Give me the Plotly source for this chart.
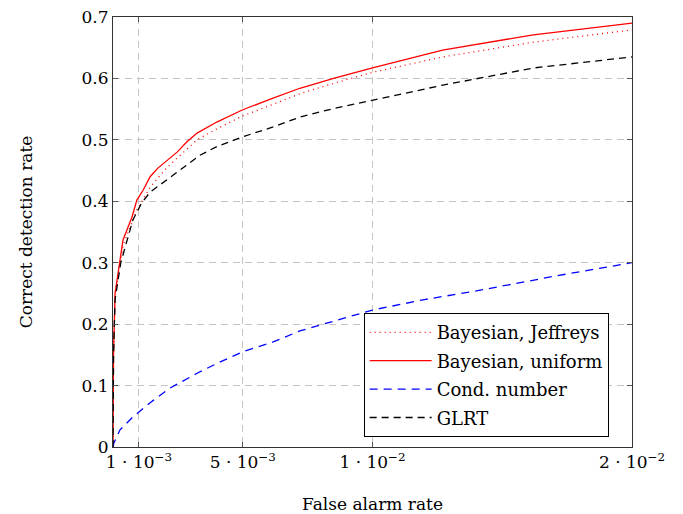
import plotly.graph_objects as go

# False alarm rate in units of 1e-3
jef_x = [0, 0.02, 0.08, 0.27, 0.4, 0.73, 0.92, 1.43, 2.08, 2.85, 3.24, 4.0, 5.0, 6.17, 7.2, 8.5, 10, 12.7, 16.2, 20]
jef_y = [0, 0.15, 0.25, 0.30, 0.33, 0.365, 0.386, 0.423, 0.455, 0.485, 0.500, 0.518, 0.539, 0.558, 0.575, 0.592, 0.610, 0.635, 0.659, 0.679]

uni_x = [0, 0.02, 0.08, 0.27, 0.385, 0.73, 0.92, 1.16, 1.43, 1.73, 2.08, 2.47, 2.85, 3.24, 4.0, 5.0, 6.17, 7.2, 8.5, 10, 12.7, 16.2, 20]
uni_y = [0, 0.15, 0.25, 0.309, 0.337, 0.374, 0.402, 0.418, 0.440, 0.454, 0.467, 0.480, 0.497, 0.511, 0.529, 0.549, 0.568, 0.584, 0.600, 0.617, 0.646, 0.671, 0.690]

cond_x = [0, 0.03, 0.27, 0.77, 1.43, 2.2, 3.24, 4.1, 5.0, 6.17, 7.2, 10, 12, 14, 17, 20]
cond_y = [0, 0.006, 0.028, 0.049, 0.072, 0.096, 0.120, 0.138, 0.155, 0.171, 0.189, 0.223, 0.240, 0.254, 0.278, 0.300]

glrt_x = [0, 0.02, 0.08, 0.3, 0.5, 0.77, 1.1, 1.43, 2.08, 2.7, 3.35, 4.0, 5.0, 6.17, 7.2, 8.5, 10, 12.7, 16.2, 20]
glrt_y = [0, 0.15, 0.24, 0.30, 0.33, 0.370, 0.397, 0.415, 0.435, 0.454, 0.475, 0.489, 0.505, 0.521, 0.537, 0.551, 0.565, 0.589, 0.617, 0.635]

x_ticks = [1e-3, 5e-3, 1e-2, 2e-2]
x_ticktext = ["1 · 10<sup>−3</sup>", "5 · 10<sup>−3</sup>", "1 · 10<sup>−2</sup>", "2 · 10<sup>−2</sup>"]
y_ticks = [0, 0.1, 0.2, 0.3, 0.4, 0.5, 0.6, 0.7]
y_ticktext = ["0", "0.1", "0.2", "0.3", "0.4", "0.5", "0.6", "0.7"]

def sc(xs):
    return [v * 1e-3 for v in xs]

FONT = "DejaVu Serif"
FS = 17
LFS = 18
fig = go.Figure()
fig.add_trace(go.Scatter(x=sc(jef_x), y=jef_y, mode="lines", name="Bayesian, Jeffreys", legendgroup="a",
                         line=dict(color="red", width=1.3, dash="1px,4px")))
fig.add_trace(go.Scatter(x=sc(uni_x), y=uni_y, mode="lines", name="Bayesian, uniform", legendgroup="b",
                         line=dict(color="red", width=1.3)))
fig.add_trace(go.Scatter(x=sc(cond_x), y=cond_y, mode="lines", name="Cond. number", legendgroup="c",
                         line=dict(color="blue", width=1.3, dash="8px,6px")))
fig.add_trace(go.Scatter(x=sc(glrt_x), y=glrt_y, mode="lines", name="GLRT", legendgroup="d",
                         line=dict(color="black", width=1.3, dash="7px,5px")))

axis_common = dict(showline=True, linecolor="#333", linewidth=1, mirror="ticks",
                   ticks="inside", ticklen=5, tickcolor="#555", tickwidth=1,
                   showgrid=True, gridcolor="#c4c4c4", gridwidth=1, griddash="7px,5px",
                   zeroline=False, automargin=False, ticklabeloverflow="allow",
                   tickfont=dict(family=FONT, size=FS, color="black"))

fig.update_xaxes(range=[0, 0.02], tickvals=x_ticks, ticktext=x_ticktext,
                 title=dict(text="False alarm rate", font=dict(family=FONT, size=FS, color="black"), standoff=28),
                 **axis_common)
fig.update_yaxes(range=[0, 0.7], tickvals=y_ticks, ticktext=y_ticktext,
                 title=dict(text="Correct detection rate", font=dict(family=FONT, size=FS, color="black"), standoff=44),
                 **axis_common)

fig.update_layout(
    width=675, height=506,
    margin=dict(l=105, r=51, t=9, b=67),
    plot_bgcolor="white", paper_bgcolor="white",
    font=dict(family=FONT, size=FS, color="black"),
    legend=dict(x=0.955, y=0.023, xanchor="right", yanchor="bottom",
                bgcolor="white", bordercolor="black", borderwidth=1,
                font=dict(family=FONT, size=LFS, color="black"),
                tracegroupgap=2, itemwidth=62),
    showlegend=True,
)

fig.write_html("out.html")
